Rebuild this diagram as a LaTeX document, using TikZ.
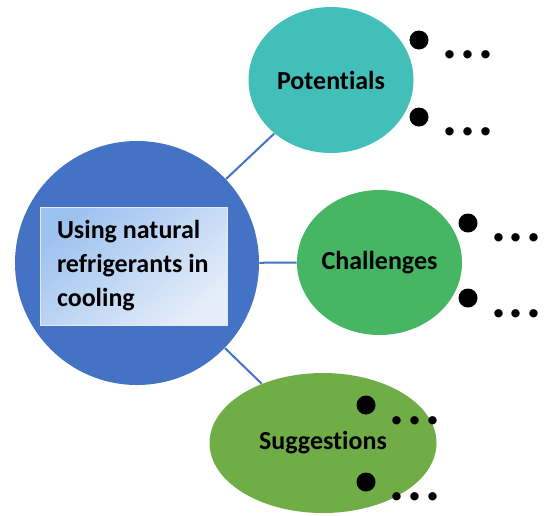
\documentclass[tikz,border=0pt]{standalone}
\usepackage{fontspec}
\setmainfont{Carlito}[RawFeature=-liga]
\usetikzlibrary{shapes.geometric}

\definecolor{hubblue}{HTML}{4472C4}
\definecolor{boxtop}{HTML}{9EC2F0}
\definecolor{boxbottom}{HTML}{E4EDF9}
\definecolor{potteal}{HTML}{42BFB8}
\definecolor{chalgreen}{HTML}{46B564}
\definecolor{suggreen}{HTML}{70AD47}

\tikzset{
    topic/.style={ellipse, inner sep=0pt, font=\bfseries\fontsize{13pt}{17pt}\selectfont},
    bullet/.style={circle, fill=black, inner sep=0pt, minimum size=9.5pt},
    more/.style={inner sep=0pt, font=\bfseries\fontsize{28pt}{28pt}\selectfont},
    link/.style={draw=hubblue, line width=1pt},
}

\begin{document}
\begin{tikzpicture}[x=0.5pt, y=-0.5pt]
        \useasboundingbox (0,0) rectangle (544,515);

        % centre topic
        \node[circle, fill=hubblue, inner sep=0pt, minimum size=122pt] (hub) at (137,263) {};
        \node[top color=boxtop, bottom color=boxbottom, shading angle=40, draw=white!85!hubblue, line width=0.3pt,
              inner xsep=8.5pt, inner ysep=0pt, text width=76.5pt, minimum height=59pt, align=flush left,
              font=\bfseries\fontsize{13pt}{17pt}\selectfont] (title) at (133.5,266) {Using natural\\refrigerants in\\cooling};

        % the three branches
        \node[topic, fill=potteal, minimum width=82.5pt, minimum height=73pt] (pot) at (331,80) {Potentials};
        \node[topic, fill=chalgreen, minimum width=82.5pt, minimum height=72.5pt] (chal) at (379.5,262.5) {Challenges};
        \node[topic, fill=suggreen, minimum width=113.5pt, minimum height=70pt] (sug) at (323,443) {Suggestions};

        \draw[link] (hub) -- (pot);
        \draw[link] (hub) -- (chal);
        \draw[link] (hub) -- (sug);

        % bullet points
        \node[bullet] (potA) at (419,40) {};
        \node[bullet] (potB) at (419,117) {};
        \node[bullet] (chalA) at (468,223) {};
        \node[bullet] (chalB) at (468,298) {};
        \node[bullet] (sugA) at (366,405) {};
        \node[bullet] (sugB) at (366,482) {};

        \node[more] (potAtext) at (468,55) {.\kern1.5pt.\kern1.5pt.};
        \node[more] (potBtext) at (468,132) {.\kern1.5pt.\kern1.5pt.};
        \node[more] (chalAtext) at (516.5,238) {.\kern1.5pt.\kern1.5pt.};
        \node[more] (chalBtext) at (516.5,314) {.\kern1.5pt.\kern1.5pt.};
        \node[more] (sugAtext) at (415,421) {.\kern1.5pt.\kern1.5pt.};
        \node[more] (sugBtext) at (415,497) {.\kern1.5pt.\kern1.5pt.};
    \end{tikzpicture}
\end{document}
